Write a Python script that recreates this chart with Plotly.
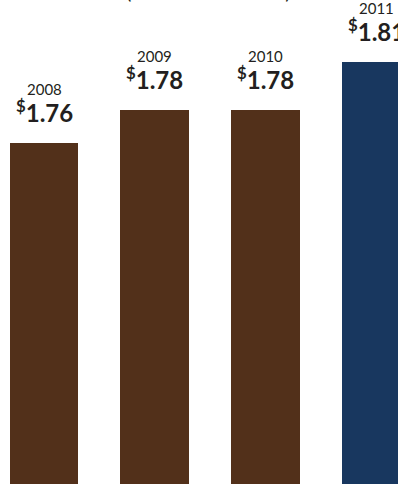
import plotly.graph_objects as go

years = ["2008", "2009", "2010", "2011"]
values = [1.76, 1.78, 1.78, 1.81]
colors = ["#52301A", "#52301A", "#52301A", "#18375F"]
subtitle = "(Annual Dividends)"

fig = go.Figure()
fig.add_trace(go.Bar(
    x=years, y=values, marker=dict(color=colors, line=dict(width=0)),
    width=0.62, hoverinfo="skip",
))

FONT = "Lato, 'Open Sans', sans-serif"
TXT = "#231F20"
for i, (yr, v) in enumerate(zip(years, values)):
    fig.add_annotation(x=i, y=v, xref="x", yref="y", yanchor="bottom",
                       text="<b><sup>$</sup>%.2f</b>" % v, showarrow=False,
                       yshift=14, font=dict(family=FONT, size=24, color=TXT))
    fig.add_annotation(x=i, y=v, xref="x", yref="y", yanchor="bottom",
                       text=yr, showarrow=False, yshift=43,
                       font=dict(family=FONT, size=15, color=TXT))

fig.add_annotation(x=0.525, y=1, xref="paper", yref="paper", yanchor="bottom",
                   yshift=-5, text=subtitle, showarrow=False,
                   font=dict(family=FONT, size=20, color=TXT))

fig.update_layout(
    width=398, height=484,
    margin=dict(l=0, r=0, t=0, b=0),
    paper_bgcolor="white", plot_bgcolor="white",
    showlegend=False,
    xaxis=dict(type="category", range=[-0.3976, 3.1988], visible=False, fixedrange=True),
    yaxis=dict(range=[1.5502, 1.8479], visible=False, fixedrange=True),
    bargap=0,
)
fig.write_html("out.html", config={"displayModeBar": False},
               post_script="document.body.style.margin='0';document.body.style.overflow='hidden';")
